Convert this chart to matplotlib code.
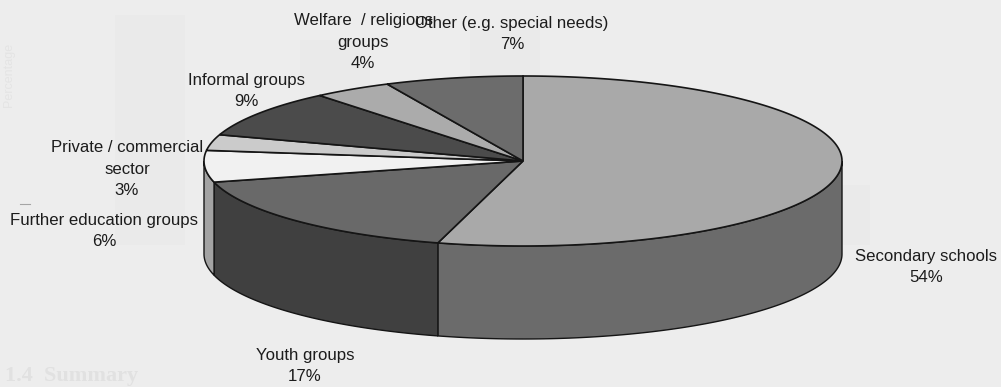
import numpy as np
import matplotlib
matplotlib.use('Agg')
import matplotlib.pyplot as plt

plt.rcParams['font.family'] = ['Liberation Sans', 'DejaVu Sans']

# Share of each group, clockwise from 12 o'clock
categories = ['Secondary schools', 'Youth groups', 'Further education groups',
              'Private / commercial sector', 'Informal groups',
              'Welfare / religious groups', 'Other (e.g. special needs)']
values = [54.3, 16.7, 6, 3, 9, 4, 7]
top_colors = ['#a9a9a9', '#696969', '#f1f1f1', '#cbcbcb', '#4b4b4b', '#ababab', '#6c6c6c']
side_colors = ['#6b6b6b', '#404040', '#a3a3a3', '#808080', '#2e2e2e', '#6b6b6b', '#444444']

# Labels as broken in the picture
label_text = ['Secondary schools\n54%', 'Youth groups\n17%', 'Further education groups\n6%',
              'Private / commercial\nsector\n3%', 'Informal groups\n9%',
              'Welfare  / religious\ngroups\n4%', 'Other (e.g. special needs)\n7%']
label_x = [926, 305, 104, 127, 246, 363, 512]
label_y = [267, 366, 231, 169, 91, 42, 34]

# Pie geometry in image pixels
cx, cy = 523, 161
rx, ry = 319, 85
depth = 93
edge = '#151515'
bg = '#ededed'

fig = plt.figure(figsize=(10.01, 3.87), dpi=100, facecolor=bg)
ax = fig.add_axes([0, 0, 1, 1])
ax.set_xlim(0, 1001)
ax.set_ylim(387, 0)
ax.axis('off')


def rim(a0, a1):
    # a0, a1 in degrees clockwise from the top of the ellipse
    t = np.radians(np.linspace(a0, a1, 200))
    return cx + rx * np.sin(t), cy - ry * np.cos(t)


# Faint show-through from the other side of the scanned page
ax.text(5, 381, '1.4  Summary', family='Liberation Serif', fontsize=16, weight='bold', color='#e1e1e1')
ax.text(9, 75, 'Percentage', rotation=90, fontsize=9, color='#e4e4e4', ha='center', va='center')
for bx, bw, btop in zip([115, 300, 470, 640, 790], [70, 70, 70, 70, 80], [15, 40, 30, 120, 185]):
    ax.bar(bx + bw / 2, 245 - btop, bw, bottom=btop, color='#eaeaea', zorder=0)
ax.plot([20, 30], [204, 204], color='#a5a5a5', lw=0.8, zorder=1)

edges = 360 * np.cumsum([0] + values) / sum(values)

# Side wall, only the part of the rim facing the viewer
for i in range(len(values)):
    a0, a1 = max(edges[i], 90), min(edges[i + 1], 270)
    if a1 <= a0:
        continue
    x, y = rim(a0, a1)
    ax.fill(np.r_[x, x[::-1]], np.r_[y, y[::-1] + depth], color=side_colors[i],
            ec=edge, lw=1.0, zorder=2)

# Top face
for i in range(len(values)):
    x, y = rim(edges[i], edges[i + 1])
    ax.fill(np.r_[cx, x], np.r_[cy, y], color=top_colors[i], ec=edge, lw=1.2, zorder=3)

for s, lx, ly in zip(label_text, label_x, label_y):
    ax.text(lx, ly, s, ha='center', va='center', fontsize=12.1, color='#1c1c1c',
            linespacing=1.52, zorder=5)

fig.savefig('out.png', dpi=100, facecolor=bg)
